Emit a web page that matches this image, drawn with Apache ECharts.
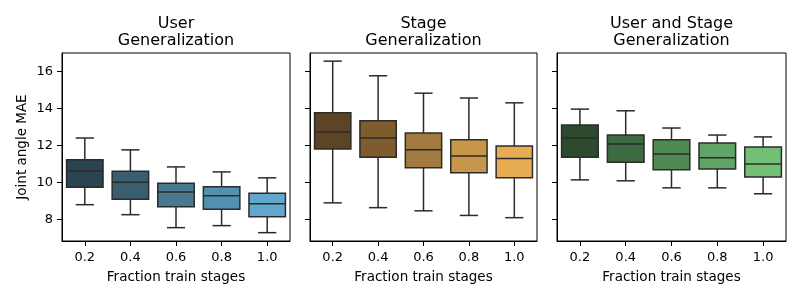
<!DOCTYPE html>
<html>
<head>
<meta charset="utf-8">
<script src="https://cdn.jsdelivr.net/npm/echarts@6/dist/echarts.min.js"></script>
<style>
html,body{margin:0;padding:0;background:#fff;}
#chart{width:800px;height:300px;}
</style>
</head>
<body>
<div id="chart"></div>
<script>
// ---- data ----
const categories = ['0.2', '0.4', '0.6', '0.8', '1.0'];
const panelTitles = ['User\nGeneralization', 'Stage\nGeneralization', 'User and Stage\nGeneralization'];
// each item: [lower whisker, Q1, median, Q3, upper whisker]
const userGen = [
  [8.81, 9.75, 10.64, 11.23, 12.41],
  [8.27, 9.11, 10.02, 10.62, 11.77],
  [7.57, 8.70, 9.49, 9.97, 10.85],
  [7.68, 8.57, 9.29, 9.78, 10.58],
  [7.30, 8.16, 8.86, 9.43, 10.26]
];
const stageGen = [
  [8.91, 11.82, 12.74, 13.77, 16.56],
  [8.65, 11.37, 12.41, 13.34, 15.77],
  [8.48, 10.80, 11.77, 12.68, 14.83],
  [8.23, 10.53, 11.44, 12.32, 14.57],
  [8.11, 10.26, 11.30, 11.98, 14.31]
];
const userStageGen = [
  [10.15, 11.37, 12.41, 13.11, 13.97],
  [10.10, 11.10, 12.09, 12.57, 13.88],
  [9.72, 10.69, 11.55, 12.32, 12.95],
  [9.72, 10.74, 11.34, 12.14, 12.57],
  [9.40, 10.31, 11.01, 11.93, 12.47]
];
const yTicks = [8, 10, 12, 14, 16];
const blues = ['#2b4451', '#395e6f', '#477a8f', '#5291b2', '#62a8cc'];
const browns = ['#5c4424', '#7f5c2e', '#a27a40', '#c8964b', '#e8ad53'];
const greens = ['#2d4a2e', '#3e6a41', '#4f8a53', '#62a467', '#74bf76'];

const panels = [userGen, stageGen, userStageGen];
const palettes = [blues, browns, greens];
const gridDefs = [
  {left: 62, width: 228},
  {left: 310, width: 227},
  {left: 557, width: 229}
];
const FONT = 'DejaVu Sans';
const LINE = '#2b2b2b';

function makeRender(palette) {
  return function (params, api) {
    const i = api.value(0);
    const band = api.size([1, 0])[0];
    const bw = band * 0.8;
    const cw = bw * 0.5;
    const cx = api.coord([i, 0])[0];
    const yLow = api.coord([i, api.value(1)])[1];
    const yQ1 = api.coord([i, api.value(2)])[1];
    const yMed = api.coord([i, api.value(3)])[1];
    const yQ3 = api.coord([i, api.value(4)])[1];
    const yHigh = api.coord([i, api.value(5)])[1];
    const ls = {stroke: LINE, lineWidth: 1.5};
    return {
      type: 'group',
      children: [
        {type: 'line', shape: {x1: cx, y1: yQ1, x2: cx, y2: yLow}, style: ls},
        {type: 'line', shape: {x1: cx, y1: yQ3, x2: cx, y2: yHigh}, style: ls},
        {type: 'line', shape: {x1: cx - cw / 2, y1: yLow, x2: cx + cw / 2, y2: yLow}, style: ls},
        {type: 'line', shape: {x1: cx - cw / 2, y1: yHigh, x2: cx + cw / 2, y2: yHigh}, style: ls},
        {type: 'rect', shape: {x: cx - bw / 2, y: yQ3, width: bw, height: yQ1 - yQ3},
          style: {fill: palette[params.dataIndex], stroke: LINE, lineWidth: 1.5}},
        {type: 'line', shape: {x1: cx - bw / 2, y1: yMed, x2: cx + bw / 2, y2: yMed}, style: ls}
      ]
    };
  };
}

const option = {
  animation: false,
  backgroundColor: '#fff',
  title: panelTitles.map((t, k) => ({
    text: t,
    left: gridDefs[k].left + gridDefs[k].width / 2,
    top: 15,
    textAlign: 'center',
    padding: 0,
    textStyle: {fontFamily: FONT, fontSize: 16, fontWeight: 'normal', color: '#000', lineHeight: 17}
  })),
  grid: gridDefs.map(g => ({
    left: g.left, width: g.width, top: 53, height: 188,
    show: true, borderColor: '#000', borderWidth: 1, backgroundColor: 'transparent'
  })),
  xAxis: gridDefs.map((g, k) => ({
    type: 'category',
    gridIndex: k,
    data: categories,
    boundaryGap: true,
    name: 'Fraction train stages',
    nameLocation: 'middle',
    nameGap: 29,
    nameTextStyle: {fontFamily: FONT, fontSize: 13.5, color: '#000'},
    axisLine: {show: true, lineStyle: {color: '#000', width: 1}},
    axisTick: {show: true, alignWithLabel: true, length: 5, lineStyle: {color: '#000'}},
    axisLabel: {fontFamily: FONT, fontSize: 13, color: '#000', margin: 10},
    splitLine: {show: false}
  })),
  yAxis: gridDefs.map((g, k) => ({
    type: 'value',
    gridIndex: k,
    min: 6.85,
    max: 17.0,
    name: k === 0 ? 'Joint angle MAE' : '',
    nameLocation: 'middle',
    nameGap: 33,
    nameTextStyle: {fontFamily: FONT, fontSize: 13.5, color: '#000'},
    axisLine: {show: true, lineStyle: {color: '#000', width: 1}},
    axisTick: {show: true, length: 5, lineStyle: {color: '#000'}, customValues: yTicks},
    axisLabel: {show: k === 0, fontFamily: FONT, fontSize: 13, color: '#000', margin: 9, customValues: yTicks},
    splitLine: {show: false}
  })),
  series: panels.map((d, k) => ({
    type: 'custom',
    xAxisIndex: k,
    yAxisIndex: k,
    renderItem: makeRender(palettes[k]),
    encode: {x: 0, y: [1, 2, 3, 4, 5]},
    data: d.map((v, i) => [i].concat(v))
  }))
};

const chart = echarts.init(document.getElementById('chart'), null, {renderer: 'canvas'});
chart.setOption(option);
</script>
</body>
</html>
